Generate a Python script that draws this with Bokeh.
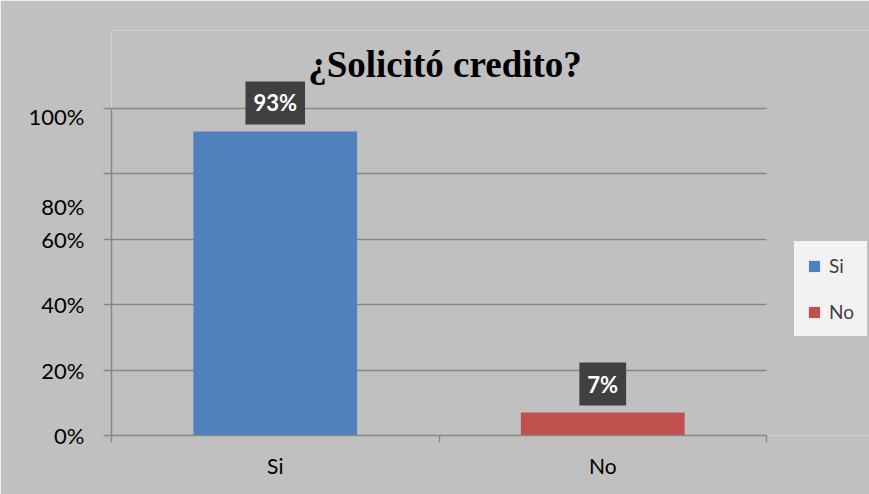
from bokeh.plotting import figure
from bokeh.models import FixedTicker, Range1d, Legend, LegendItem, ColumnDataSource, Label
from bokeh.embed import file_html
from bokeh.resources import INLINE

# ---- data ----
categories = ["Si", "No"]
percent = [93, 7]
bar_colors = ["#4F81BD", "#C0504D"]
value_labels = ["93%", "7%"]
grid_ticks = [0, 20, 40, 60, 80, 100]
ytick_positions = [0, 20, 40, 60, 70, 97.5]
ytick_labels = ["0%", "20%", "40%", "60%", "80%", "100%"]
title_text = "¿Solicitó credito?"

xpos = [i + 0.5 for i in range(len(categories))]
bounds = [float(i) for i in range(len(categories) + 1)]
ncat = len(categories)

BG = "#C0C0C0"
GRID = "#868686"

# frame: plotting area 111..766 px for the categories, 108..435 px for 0..100 %;
# the frame is extended up/right so that labels and legend are not clipped.
x_end = ncat * (869 - 111) / (766 - 111)
y_end = 100 * (435 - 30) / (435 - 108)

p = figure(width=869, height=494, x_range=Range1d(0, x_end), y_range=Range1d(0, y_end),
           output_backend="svg", toolbar_location=None,
           min_border_left=111, min_border_right=0, min_border_top=30, min_border_bottom=59)
p.background_fill_color = BG
p.border_fill_color = BG
p.outline_line_color = None

renderers = []
for i, cat in enumerate(categories):
    src = ColumnDataSource(dict(x=[xpos[i]], top=[percent[i]]))
    r = p.vbar(x="x", top="top", bottom=0, width=0.5, source=src,
               fill_color=bar_colors[i], line_color=None)
    renderers.append((cat, r))

# title
p.add_layout(Label(x=ncat / 2, y=100, text=title_text, x_offset=6, y_offset=44,
                   text_align="center", text_baseline="alphabetic",
                   text_font="Liberation Serif", text_font_style="bold",
                   text_font_size="37px", text_color="#000000"))

# data labels
for i in range(ncat):
    p.add_layout(Label(x=xpos[i], y=percent[i], text=value_labels[i],
                       text_align="center", text_baseline="bottom",
                       text_font="Lato", text_font_style="bold", text_font_size="22px",
                       text_color="white", background_fill_color="#404040",
                       padding=8, y_offset=7))

# grid
p.xgrid.visible = False
p.ygrid.ticker = FixedTicker(ticks=grid_ticks)
p.ygrid.grid_line_color = GRID
p.ygrid.grid_line_width = 1.5
p.ygrid.cross_bounds = (0, ncat)

# y axis
ya = p.yaxis[0]
ya.bounds = (0, 100)
ya.ticker = FixedTicker(ticks=ytick_positions, minor_ticks=grid_ticks)
ya.major_label_overrides = {k: v for k, v in zip(ytick_positions, ytick_labels)}
ya.major_tick_out = 0
ya.major_tick_in = 0
ya.minor_tick_out = 8
ya.minor_tick_in = 0
ya.minor_tick_line_color = GRID
ya.minor_tick_line_width = 1.5
ya.axis_line_color = GRID
ya.axis_line_width = 1.5
ya.major_label_text_font = "Lato"
ya.major_label_text_font_size = "22px"
ya.major_label_text_color = "#000000"
ya.major_label_standoff = 19

# x axis
xa = p.xaxis[0]
xa.bounds = (0, ncat)
xa.ticker = FixedTicker(ticks=xpos, minor_ticks=bounds)
xa.major_label_overrides = {k: v for k, v in zip(xpos, categories)}
xa.major_tick_out = 0
xa.major_tick_in = 0
xa.minor_tick_out = 7
xa.minor_tick_in = 0
xa.minor_tick_line_color = GRID
xa.minor_tick_line_width = 1.5
xa.axis_line_color = GRID
xa.axis_line_width = 1.5
xa.major_label_text_font = "Lato"
xa.major_label_text_font_size = "21px"
xa.major_label_text_color = "#000000"
xa.major_label_standoff = 10

legend = Legend(items=[LegendItem(label=c, renderers=[r]) for c, r in renderers],
                location=(683, 99), orientation="vertical",
                glyph_width=14, glyph_height=14, label_height=20, spacing=23,
                padding=12, margin=0, label_standoff=8,
                label_text_font="Lato", label_text_font_size="19px", label_text_color="#404040",
                background_fill_color="#F2F2F2", background_fill_alpha=1.0,
                border_line_color="#F2F2F2", border_line_width=1)
p.add_layout(legend, "center")

open("out.html", "w").write(file_html(p, INLINE))
